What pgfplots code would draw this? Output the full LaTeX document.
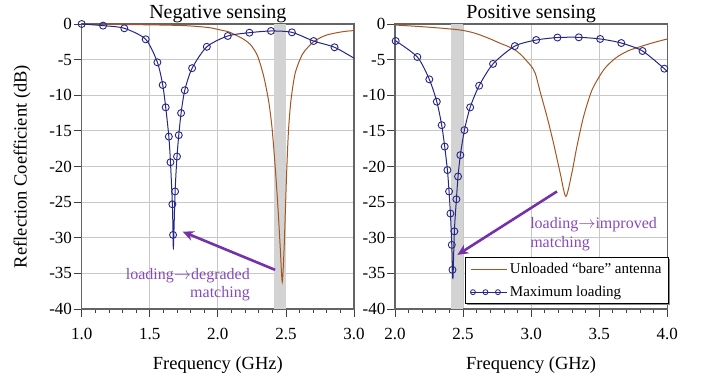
\documentclass[border=0pt]{standalone}
\usepackage{pgfplots}
\pgfplotsset{compat=1.18}
\usepackage{fontspec}
\setmainfont{Liberation Serif}
\usetikzlibrary{arrows.meta}
\definecolor{navyb}{RGB}{38,38,135}
\definecolor{brownc}{RGB}{165,85,35}
\definecolor{purp}{RGB}{115,50,170}
\definecolor{purpt}{RGB}{135,75,185}
\definecolor{bandc}{RGB}{211,211,211}
\definecolor{gridc}{RGB}{200,200,200}
\definecolor{framec}{RGB}{100,100,100}

\newcommand{\ar}{\mbox{$\rightarrow$}}

\pgfplotsset{
 every axis title shift=0pt,
 myaxis/.style={
  scale only axis, width=272.3pt, height=285pt,
  ymin=-40, ymax=0, ytick={-40,-35,...,0},
  clip=false,
  grid=major, major grid style={draw=gridc, line width=1.1pt},
  axis line style={draw=framec, line width=1.3pt},
  tick align=outside, xtick pos=bottom, ytick pos=left,
  major tick length=8pt, minor tick length=4pt,
  tick style={black!75, line width=0.8pt},
  minor x tick num=4,
  tick label style={font=\fontsize{17}{20}\selectfont},
  /pgf/number format/assume math mode=true,
  xticklabel style={/pgf/number format/.cd, fixed, fixed zerofill, precision=1, /tikz/.cd, anchor=base, yshift=-22.5pt},
  yticklabel style={anchor=east, inner xsep=1.5pt},
  title style={font=\fontsize{20}{24}\selectfont, at={(0.5,1.02)}, anchor=base},
  xlabel style={font=\fontsize{18.5}{22}\selectfont, at={(0.5,-0.214)}, anchor=base},
  ylabel style={font=\fontsize{18.5}{22}\selectfont, at={(-0.2193,0.5)}, anchor=center},
 },
 brownline/.style={brownc, line width=1pt, smooth, tension=0.45},
 blueline/.style={navyb, line width=1pt, smooth, tension=0.45},
 bluemarks/.style={navyb, only marks, mark=o, mark size=3.5pt, mark options={line width=0.9pt}},
}

\begin{document}
\begin{tikzpicture}[x=1pt,y=1pt]
\path[use as bounding box] (0,0) rectangle (701,381);

% ---------------- Left: Negative sensing ----------------
\begin{axis}[myaxis, at={(81.7pt,72pt)}, anchor=south west,
  xmin=1, xmax=3, xtick={1,1.5,2,2.5,3},
  title={Negative sensing}, xlabel={Frequency (GHz)},
  ylabel={Reflection Coefficient (dB)}]
\fill[bandc] (axis cs:2.41,-40) rectangle (axis cs:2.50,0);
\addplot[brownline] coordinates {
(1.00,0.00) (1.20,-0.04) (1.40,-0.09) (1.60,-0.15) (1.75,-0.22) (1.87,-0.38)
(1.95,-0.55) (2.02,-0.84) (2.08,-1.10) (2.12,-1.45) (2.19,-2.15) (2.24,-2.9)
(2.29,-4.4) (2.335,-7.2) (2.372,-10.7) (2.397,-14.4) (2.421,-20.0) (2.441,-25.6)
(2.458,-31.3) (2.473,-36.2) (2.487,-31.3) (2.497,-25.6) (2.507,-20.0) (2.519,-14.9)
(2.537,-10.7) (2.568,-6.9) (2.618,-4.35) (2.66,-3.3) (2.703,-2.48) (2.75,-1.95)
(2.80,-1.54) (2.88,-1.20) (2.95,-1.00) (3.00,-0.93)
};
\addplot[blueline] coordinates {
(1.000,0.00) (1.157,-0.23) (1.313,-0.60) (1.470,-2.15) (1.556,-5.38) (1.595,-8.56)
(1.617,-11.7) (1.640,-15.8) (1.652,-19.4) (1.666,-25.3) (1.671,-29.6) (1.674,-31.3)
(1.686,-23.5) (1.700,-18.6) (1.713,-15.6) (1.730,-12.5) (1.757,-9.3) (1.811,-6.2)
(1.919,-3.2) (2.073,-1.68) (2.232,-1.22) (2.390,-0.98) (2.544,-1.17) (2.703,-2.39)
(2.857,-3.27) (3.000,-4.8)
};
\addplot[bluemarks] coordinates {
(1.000,0.00) (1.157,-0.23) (1.313,-0.60) (1.470,-2.15) (1.556,-5.38) (1.595,-8.56)
(1.617,-11.7) (1.640,-15.8) (1.652,-19.4) (1.666,-25.3) (1.671,-29.6)
(1.686,-23.5) (1.700,-18.6) (1.713,-15.6) (1.730,-12.5) (1.757,-9.3) (1.811,-6.2)
(1.919,-3.2) (2.073,-1.68) (2.232,-1.22) (2.390,-0.98) (2.544,-1.17) (2.703,-2.39)
(2.857,-3.27)
};
\draw[purp, line width=2.6pt, -{Stealth[length=11pt, width=10pt]}]
  (axis cs:2.42,-34.5) -- (axis cs:1.742,-29.15);
\node[purpt, anchor=base east, inner sep=0pt, font=\fontsize{16}{19}\selectfont]
  at (axis cs:2.236,-35.8) {loading\ar degraded};
\node[purpt, anchor=base east, inner sep=0pt, font=\fontsize{16}{19}\selectfont]
  at (axis cs:2.236,-38.4) {matching};
\end{axis}

% ---------------- Right: Positive sensing ----------------
\begin{axis}[myaxis, at={(395pt,72pt)}, anchor=south west,
  xmin=2, xmax=4, xtick={2,2.5,3,3.5,4},
  title={Positive sensing}, xlabel={Frequency (GHz)},
  legend style={name=leg, at={(1.006,0.181)}, anchor=north east,
    draw=black, line width=0.8pt, fill=white,
    font=\fontsize{15}{17}\selectfont,
    inner xsep=5pt, inner ysep=3.5pt, row sep=7pt,
    cells={anchor=west}},
  legend cell align=left]
\fill[bandc] (axis cs:2.41,-40) rectangle (axis cs:2.50,0);
\addplot[brownline,
  legend image code/.code={\draw[brownc, line width=1pt] (0pt,0pt) -- (36pt,0pt);}]
  coordinates {
(2.00,-0.14) (2.20,-0.38) (2.35,-0.60) (2.478,-0.84) (2.56,-1.15) (2.625,-1.54)
(2.70,-2.10) (2.772,-2.70) (2.83,-3.15) (2.882,-3.65) (2.93,-4.40) (2.968,-5.20)
(3.00,-5.90) (3.03,-6.90) (3.066,-9.5) (3.115,-12.9) (3.164,-16.7) (3.213,-20.9)
(3.255,-24.2) (3.299,-20.9) (3.336,-17.2) (3.385,-13.0) (3.447,-9.26) (3.532,-6.45)
(3.60,-5.10) (3.654,-4.35) (3.72,-3.70) (3.801,-3.18) (3.90,-2.60) (4.00,-2.10)
};
\addlegendentry{Unloaded “bare” antenna}
\addplot[blueline,
  legend image code/.code={\draw[navyb, line width=1pt] (0pt,0pt) -- (36pt,0pt);
    \draw[navyb, line width=0.8pt] (1.5pt,0pt) circle[radius=2.5pt] (14pt,0pt) circle[radius=2.5pt] (26.5pt,0pt) circle[radius=2.5pt];}]
  coordinates {
(2.000,-2.30) (2.164,-4.63) (2.252,-7.77) (2.307,-10.9) (2.343,-14.2) (2.365,-17.2)
(2.385,-20.5) (2.397,-23.5) (2.407,-26.6) (2.417,-31.0) (2.422,-34.5) (2.426,-35.6)
(2.436,-29.1) (2.451,-24.6) (2.463,-21.4) (2.480,-18.4) (2.510,-14.9) (2.552,-11.7)
(2.618,-8.66) (2.720,-5.6) (2.880,-3.1) (3.037,-2.25) (3.193,-1.90) (3.350,-1.87)
(3.507,-2.10) (3.662,-2.67) (3.818,-3.79) (3.978,-6.27) (4.000,-6.7)
};
\addlegendentry{Maximum loading}
\addplot[bluemarks, forget plot] coordinates {
(2.005,-2.38) (2.164,-4.63) (2.252,-7.77) (2.307,-10.9) (2.343,-14.2) (2.365,-17.2)
(2.385,-20.5) (2.397,-23.5) (2.407,-26.6) (2.417,-31.0) (2.422,-34.5)
(2.436,-29.1) (2.451,-24.6) (2.463,-21.4) (2.480,-18.4) (2.510,-14.9) (2.552,-11.7)
(2.618,-8.66) (2.720,-5.6) (2.880,-3.1) (3.037,-2.25) (3.193,-1.90) (3.350,-1.87)
(3.507,-2.10) (3.662,-2.67) (3.818,-3.79) (3.978,-6.27)
};
\draw[purp, line width=2.6pt, -{Stealth[length=11pt, width=10pt]}]
  (axis cs:3.19,-23.5) -- (axis cs:2.458,-32.4);
\node[purpt, anchor=base west, inner sep=0pt, font=\fontsize{16}{19}\selectfont]
  at (axis cs:2.992,-28.7) {loading\ar improved};
\node[purpt, anchor=base west, inner sep=0pt, font=\fontsize{16}{19}\selectfont]
  at (axis cs:2.992,-31.3) {matching};
\end{axis}
\draw[black!45, line width=1.4pt]
  ([xshift=2pt,yshift=-0.7pt]leg.south west) -- ([xshift=0.7pt,yshift=-0.7pt]leg.south east)
  -- ([xshift=0.7pt,yshift=-2pt]leg.north east);
\end{tikzpicture}
\end{document}
